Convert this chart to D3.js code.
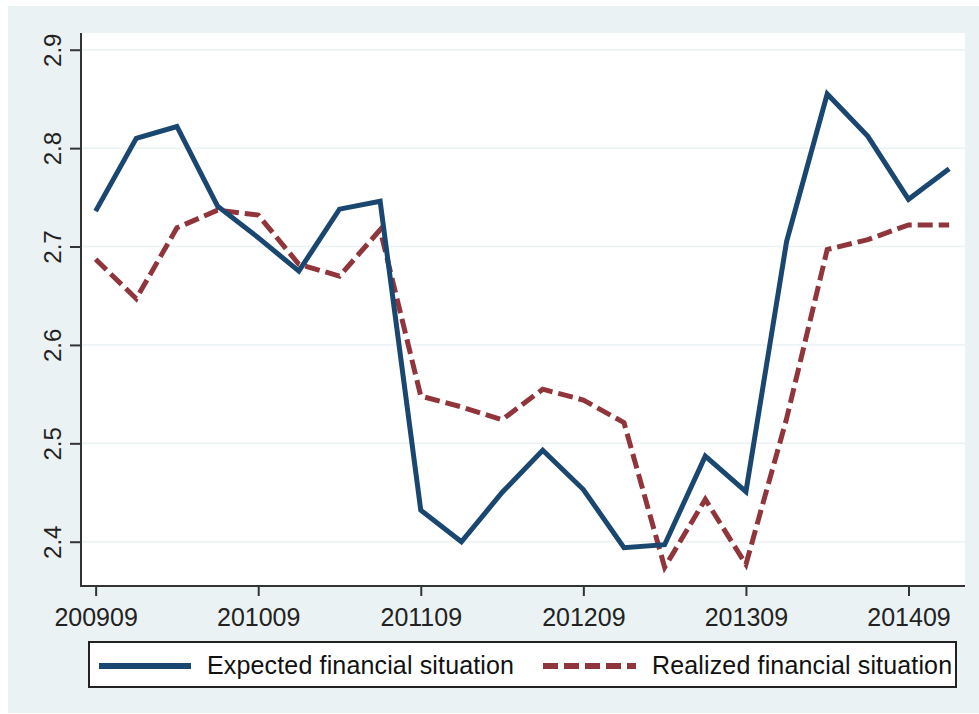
<!DOCTYPE html>
<html>
<head>
<meta charset="utf-8">
<script src="https://cdn.jsdelivr.net/npm/d3@7"></script>
<style>
  html, body { margin: 0; padding: 0; background: #fff; }
  svg { display: block; font-family: "Liberation Sans", Arial, sans-serif; }
</style>
</head>
<body>
<div id="chart"></div>
<script>
// quarterly survey periods (yyyymm)
const periods = [
    '200909', '200912', '201003', '201006',
    '201009', '201012', '201103', '201106',
    '201109', '201112', '201203', '201206',
    '201209', '201212', '201303', '201306',
    '201309', '201312', '201403', '201406',
    '201409', '201412'
];

// expected financial situation (solid line)
const expected = [
    2.736, 2.810, 2.822, 2.741,
    2.709, 2.675, 2.738, 2.746,
    2.432, 2.400, 2.450, 2.493,
    2.453, 2.394, 2.397, 2.487,
    2.451, 2.705, 2.855, 2.812,
    2.748, 2.779
];

// realized financial situation (dashed line)
const realized = [
    2.687, 2.647, 2.719, 2.737,
    2.732, 2.682, 2.670, 2.717,
    2.548, 2.537, 2.524, 2.555,
    2.544, 2.521, 2.374, 2.443,
    2.377, 2.525, 2.697, 2.707,
    2.722, 2.722
];

const xTickLabels = ['200909', '201009', '201109', '201209', '201309', '201409'];
const yTicks = [2.4, 2.5, 2.6, 2.7, 2.8, 2.9];

const seriesNames = ['Expected financial situation', 'Realized financial situation'];

const width = 979;
const height = 714;

const bgColor = '#eaf2f3';
const blue = '#1a476f';
const red = '#90353b';
const axisColor = '#333';

const svg = d3.select('#chart')
    .append('svg')
    .attr('width', width)
    .attr('height', height);

// outer graph region
svg.append('rect')
    .attr('x', 8).attr('y', 6)
    .attr('width', 971).attr('height', 707)
    .attr('fill', bgColor);

const plot = { left: 81, right: 965, top: 33, bottom: 586 };

// plot region
svg.append('rect')
    .attr('x', plot.left).attr('y', plot.top)
    .attr('width', plot.right - plot.left)
    .attr('height', plot.bottom - plot.top)
    .attr('fill', '#fff');

// x is the quarter index, y the score
const x = d3.scaleLinear()
    .domain([-0.36, periods.length - 0.61])
    .range([plot.left, plot.right]);

const y = d3.scaleLinear()
    .domain([2.355, 2.917])
    .range([plot.bottom, plot.top]);

// horizontal grid lines
svg.append('g')
    .selectAll('line')
    .data(yTicks)
    .join('line')
    .attr('x1', plot.left)
    .attr('x2', plot.right)
    .attr('y1', d => y(d))
    .attr('y2', d => y(d))
    .attr('stroke', bgColor)
    .attr('stroke-width', 1.5);

// y axis
const yAxis = svg.append('g')
    .attr('transform', `translate(${plot.left},0)`)
    .call(d3.axisLeft(y)
        .tickValues(yTicks)
        .tickFormat(d3.format('.1f'))
        .tickSize(11)
        .tickPadding(0)
        .tickSizeOuter(0));

yAxis.select('.domain').remove();
yAxis.append('line')
    .attr('x1', 0).attr('x2', 0)
    .attr('y1', plot.top).attr('y2', plot.bottom + 1)
    .attr('stroke', axisColor)
    .attr('stroke-width', 2);
yAxis.selectAll('.tick line')
    .attr('stroke', axisColor)
    .attr('stroke-width', 2);
yAxis.selectAll('.tick text')
    .attr('transform', 'rotate(-90)')
    .attr('x', 0)
    .attr('y', -20)
    .attr('dy', 0)
    .attr('text-anchor', 'middle')
    .attr('font-size', 24)
    .attr('fill', '#222');

// x axis: one tick per September
const xTickIdx = xTickLabels.map(l => periods.indexOf(l));

const xAxis = svg.append('g')
    .attr('transform', `translate(0,${plot.bottom})`)
    .call(d3.axisBottom(x)
        .tickValues(xTickIdx)
        .tickFormat(i => periods[i])
        .tickSize(10)
        .tickPadding(12)
        .tickSizeOuter(0));

xAxis.select('.domain').remove();
xAxis.append('line')
    .attr('x1', plot.left - 1).attr('x2', plot.right)
    .attr('y1', 0).attr('y2', 0)
    .attr('stroke', axisColor)
    .attr('stroke-width', 2);
xAxis.selectAll('.tick line')
    .attr('stroke', axisColor)
    .attr('stroke-width', 2);
xAxis.selectAll('.tick text')
    .attr('font-size', 25)
    .attr('fill', '#222');

// lines
const line = d3.line()
    .x((d, i) => x(i))
    .y(d => y(d));

svg.append('path')
    .datum(realized)
    .attr('d', line)
    .attr('fill', 'none')
    .attr('stroke', red)
    .attr('stroke-width', 5)
    .attr('stroke-dasharray', '15,6');

svg.append('path')
    .datum(expected)
    .attr('d', line)
    .attr('fill', 'none')
    .attr('stroke', blue)
    .attr('stroke-width', 5)
    .attr('stroke-linejoin', 'miter');

// legend
const legend = svg.append('g');

legend.append('rect')
    .attr('x', 89).attr('y', 642)
    .attr('width', 867).attr('height', 45)
    .attr('fill', '#fff')
    .attr('stroke', '#222')
    .attr('stroke-width', 2);

const legendItems = [
    { name: seriesNames[0], color: blue, dash: null, x0: 99, x1: 191, tx: 207 },
    { name: seriesNames[1], color: red, dash: '15,6', x0: 543, x1: 636, tx: 652 }
];

legendItems.forEach(item => {
    legend.append('line')
        .attr('x1', item.x0).attr('x2', item.x1)
        .attr('y1', 666).attr('y2', 666)
        .attr('stroke', item.color)
        .attr('stroke-width', 6)
        .attr('stroke-dasharray', item.dash);
    legend.append('text')
        .attr('x', item.tx)
        .attr('y', 674)
        .attr('font-size', 25)
        .attr('letter-spacing', 0.15)
        .attr('fill', '#111')
        .text(item.name);
});
</script>
</body>
</html>
